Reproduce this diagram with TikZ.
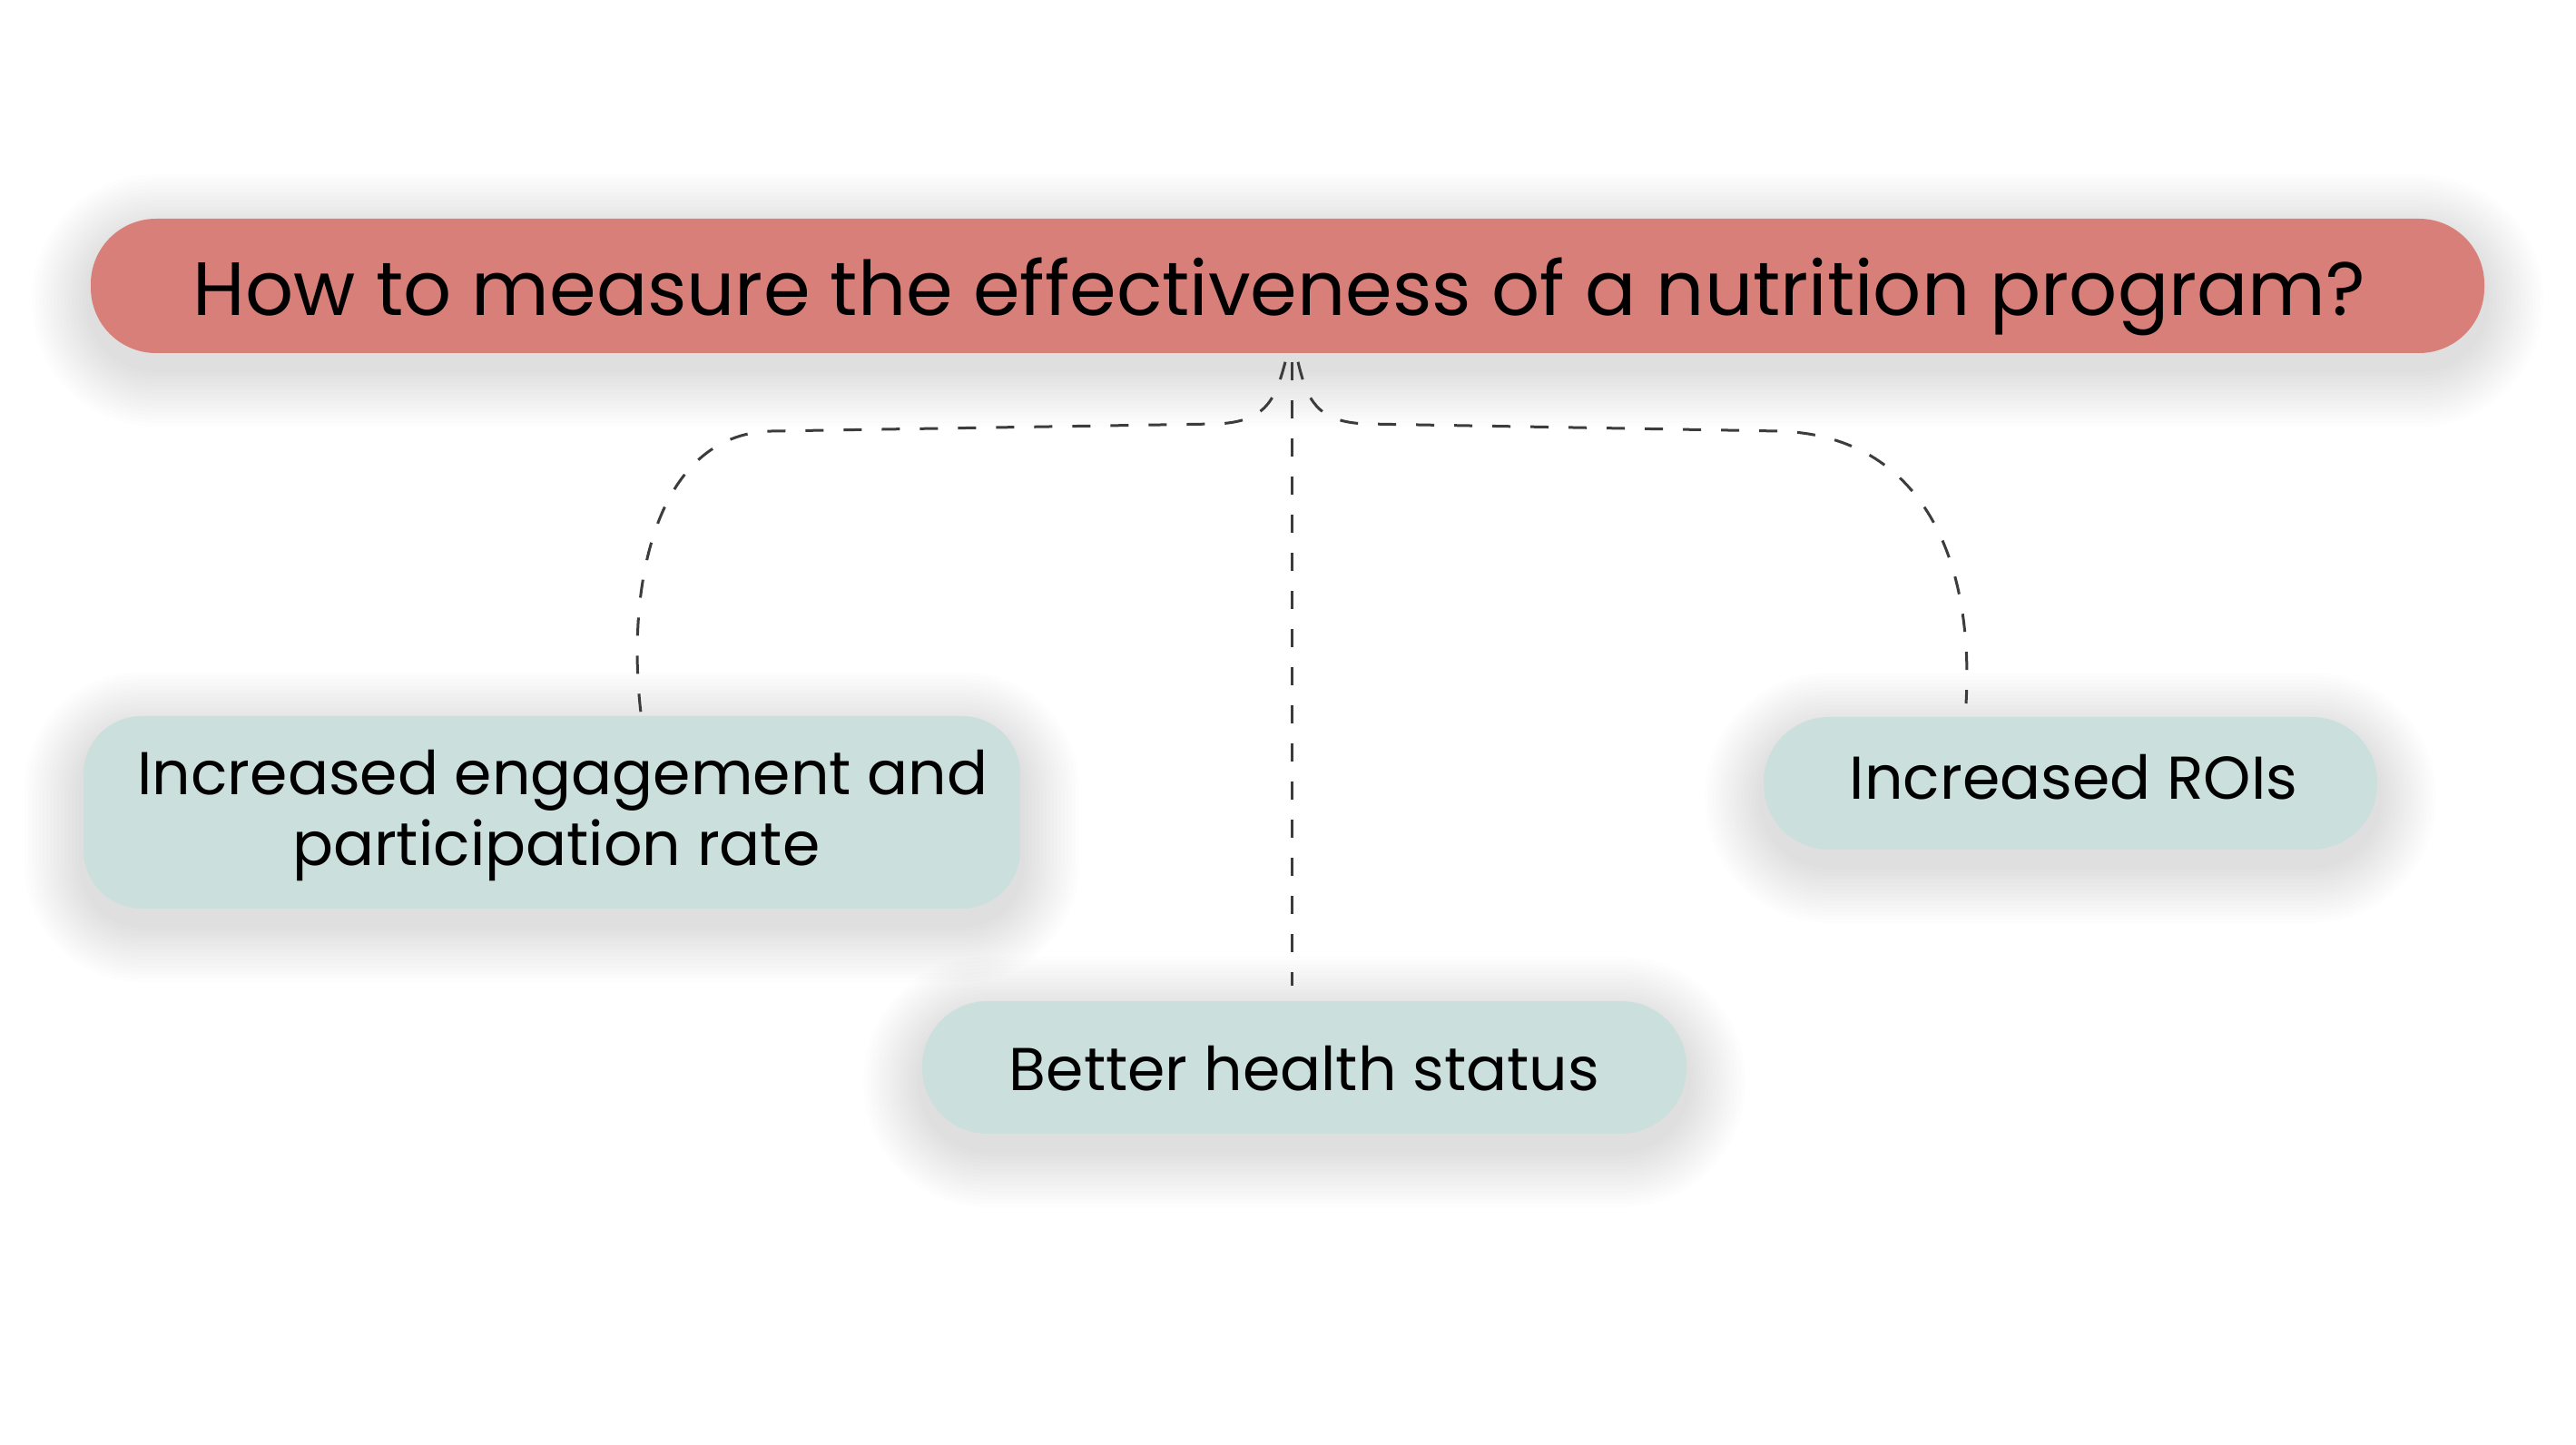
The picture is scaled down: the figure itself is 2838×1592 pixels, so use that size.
\documentclass[tikz,border=0pt]{standalone}
\usepackage{fontspec}
\setmainfont{Poppins}
\pgfdeclarelayer{bglayer}
\pgfdeclarelayer{shadowlayer}
\pgfsetlayers{bglayer,shadowlayer,main}
\definecolor{topfill}{HTML}{D77F78}
\definecolor{subfill}{HTML}{CBDFDD}
\definecolor{conncol}{HTML}{3C3C3C}
\tikzset{
  mainbox/.style={fill=topfill, draw=none, rounded corners=18pt, inner sep=0pt,
    font=\fontsize{20.8pt}{25pt}\selectfont},
  subbox/.style={fill=subfill, draw=none, inner sep=0pt,
    font=\fontsize{16.65pt}{19.5pt}\selectfont},
  conn/.style={draw=conncol, line width=0.75pt, dash pattern=on 5pt off 5.5pt},
  shadowlayerstyle/.style={fill=black, opacity=0.009}
}
% #1 node name, #2 corner radius (pt)
\newcommand{\nodeshadow}[2]{%
  \begin{pgfonlayer}{shadowlayer}
  \foreach \e in {1,2,...,16}{%
    \fill[shadowlayerstyle, rounded corners={#2pt+\e pt}]
      ([shift={(-\e pt,\e pt-4pt)}]#1.north west) rectangle ([shift={(\e pt,-\e pt-4pt)}]#1.south east);
  }
  \end{pgfonlayer}}
\begin{document}
\begin{tikzpicture}[x=0.25pt,y=-0.25pt]
\begin{pgfonlayer}{bglayer}
\useasboundingbox[fill=white] (0,0) rectangle (2838,1592);
\end{pgfonlayer}
\node[mainbox, minimum width={2637*0.25pt}, minimum height={148*0.25pt}, text height=16.5pt, text depth=0pt] (top) at (1418.5,315)
  {\hspace*{-4.6pt}How to measure the effectiveness of a nutrition program?};
\node[subbox, rounded corners=16pt, minimum width={1032*0.25pt}, minimum height={212*0.25pt}, text height=29.5pt, text depth=0pt] (left) at (608,895)
  {\hspace*{6pt}\begin{tabular}[b]{@{}c@{}}Increased engagement and\\\hspace*{-3.6pt}participation rate\end{tabular}};
\node[subbox, rounded corners=18pt, minimum width={676*0.25pt}, minimum height={146*0.25pt}, text height=9pt, text depth=0pt] (right) at (2281,863)
  {\hspace*{1.8pt}Increased ROIs};
\node[subbox, rounded corners=18pt, minimum width={842*0.25pt}, minimum height={146*0.25pt}, text height=12.5pt, text depth=0pt] (bottom) at (1437,1176)
  {Better health status};
\nodeshadow{top}{18}
\nodeshadow{left}{16}
\nodeshadow{right}{18}
\nodeshadow{bottom}{18}
% connectors
\coordinate (lend) at (706,785);
\coordinate (rend) at (2166,775);
\coordinate (bend) at (1423,1086);
\draw[conn] (top.south -| 1416,0) ++(0,9) .. controls (1405,440) and (1395,465) .. (1340,467)
  -- (850,475) .. controls (720,478) and (690,650) .. (lend);
\draw[conn] (top.south -| 1430,0) ++(0,9) .. controls (1440,440) and (1450,465) .. (1505,467)
  -- (1960,475) .. controls (2120,480) and (2175,620) .. (rend);
\draw[conn] (top.south -| 1423,0) ++(0,9) -- (bend);
\end{tikzpicture}
\end{document}
